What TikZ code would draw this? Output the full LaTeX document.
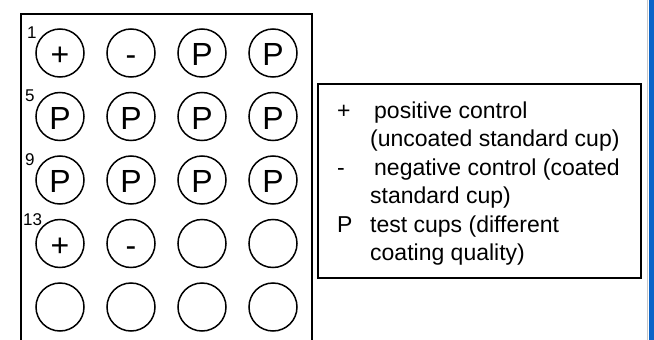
\documentclass[tikz,border=0pt]{standalone}
\usepackage{fontspec}
\setmainfont{Liberation Sans}
\definecolor{barblue}{RGB}{10,100,200}
\definecolor{bargray}{RGB}{200,200,200}
\begin{document}
\begin{tikzpicture}[x=1pt,y=-1pt,
  cup/.style={circle,draw,line width=1.5pt,inner sep=0pt,minimum size=48pt,
    text height=25pt,text depth=0pt,font=\fontsize{32}{32}\selectfont},
  wellno/.style={anchor=base west,inner sep=0pt,font=\fontsize{17}{17}\selectfont},
  legtxt/.style={anchor=base west,inner sep=0pt,font=\fontsize{23}{23}\selectfont}]
\useasboundingbox (0,0) rectangle (654,340);
\fill[white] (0,0) rectangle (654,340);
% plate outline (open at bottom)
\draw[line width=2pt] (21,340) -- (21,13.5) -- (311.5,13.5) -- (311.5,340);
% wells
\def\colA{60}\def\colB{131}\def\colC{202}\def\colD{273}
\node[cup] (w1)  at (\colA,53) {+};
\node[cup] (w2)  at (\colB,53) {-};
\node[cup] (w3)  at (\colC,53) {P};
\node[cup] (w4)  at (\colD,53) {P};
\node[cup] (w5)  at (\colA,116.5) {P};
\node[cup] (w6)  at (\colB,116.5) {P};
\node[cup] (w7)  at (\colC,116.5) {P};
\node[cup] (w8)  at (\colD,116.5) {P};
\node[cup] (w9)  at (\colA,180) {P};
\node[cup] (w10) at (\colB,180) {P};
\node[cup] (w11) at (\colC,180) {P};
\node[cup] (w12) at (\colD,180) {P};
\node[cup] (w13) at (\colA,243.5) {+};
\node[cup] (w14) at (\colB,243.5) {-};
\node[cup] (w15) at (\colC,243.5) {};
\node[cup] (w16) at (\colD,243.5) {};
\node[cup] (w17) at (\colA,307) {};
\node[cup] (w18) at (\colB,307) {};
\node[cup] (w19) at (\colC,307) {};
\node[cup] (w20) at (\colD,307) {};
% well numbers
\node[wellno] (n1)  at (27,38) {1};
\node[wellno] (n5)  at (25,101.5) {5};
\node[wellno] (n9)  at (25,165) {9};
\node[wellno] (n13) at (23,225.5) {13};
% legend
\draw[line width=1.8pt] (318,84) rectangle (641,278);
\node[legtxt] (s1) at (337,118) {+};
\node[legtxt] (t1) at (374,118) {positive control};
\node[legtxt] (t2) at (370,146.5) {(uncoated standard cup)};
\node[legtxt] (s2) at (337,175) {-};
\node[legtxt] (t3) at (374,175) {negative control (coated};
\node[legtxt] (t4) at (370,203.5) {standard cup)};
\node[legtxt] (s3) at (337,232) {P};
\node[legtxt] (t5) at (370,232) {test cups (different};
\node[legtxt] (t6) at (370,260.5) {coating quality)};
% window edge at right
\fill[bargray] (646.5,0) rectangle (647.5,340);
\fill[barblue] (649,0) rectangle (654,340);
\end{tikzpicture}
\end{document}
